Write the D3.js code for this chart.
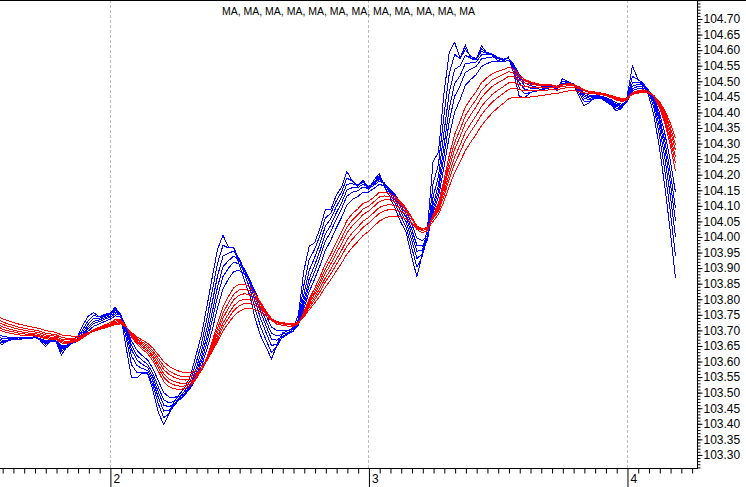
<!DOCTYPE html>
<html>
<head>
<meta charset="utf-8">
<script src="https://cdnjs.cloudflare.com/ajax/libs/d3/7.8.5/d3.min.js"></script>
<style>
  body { margin: 0; background: #fff; }
  svg { display: block; font-family: "Liberation Sans", Arial, sans-serif; }
</style>
</head>
<body>
<div id="chart"></div>
<script>
// 30-minute closes, hour 0 = start of day 2 (first 40 bars are warm-up, off-screen)
const closes = [
  103.85, 103.86, 103.84, 103.85, 103.87, 103.85, 103.84, 103.86, 103.85, 103.83,
  103.85, 103.86, 103.84, 103.85, 103.86, 103.84, 103.85, 103.87, 103.85, 103.84,
  103.86, 103.85, 103.84, 103.86, 103.85, 103.83, 103.82, 103.80, 103.79, 103.77,
  103.76, 103.75, 103.73, 103.72, 103.71, 103.70, 103.69, 103.68, 103.67, 103.66,
  // day 1, 14:00 onwards
  103.653, 103.669, 103.676, 103.669, 103.679, 103.672, 103.682, 103.666, 103.643, 103.669,
  103.663, 103.611, 103.653, 103.676, 103.682, 103.727, 103.753, 103.760, 103.740, 103.753,
  // day 2
  103.756, 103.779, 103.740, 103.621, 103.525, 103.547, 103.566, 103.563, 103.493, 103.419,
  103.387, 103.444, 103.483, 103.502, 103.525, 103.566, 103.637, 103.701, 103.798, 103.894,
  103.984, 104.016, 103.958, 103.965, 103.900, 103.846, 103.798, 103.717, 103.669, 103.637,
  103.599, 103.663, 103.701, 103.701, 103.711, 103.759, 103.926, 103.990, 103.984, 104.038,
  104.103, 104.087, 104.144, 104.167, 104.222, 104.173, 104.157, 104.189,
  // day 3
  104.144, 104.189, 104.209, 104.151, 104.119, 104.080, 104.038, 104.006, 103.920, 103.855,
  103.965, 104.055, 104.295, 104.279, 104.504, 104.626, 104.633, 104.562, 104.626, 104.562,
  104.568, 104.626, 104.584, 104.584, 104.562, 104.562, 104.581, 104.511, 104.433, 104.446,
  104.466, 104.472, 104.472, 104.482, 104.488, 104.466, 104.517, 104.498, 104.488, 104.446,
  104.414, 104.433, 104.453, 104.446, 104.433, 104.421, 104.401, 104.414,
  // day 4
  104.456, 104.575, 104.498, 104.485, 104.446, 104.376, 104.263, 104.135, 103.990, 103.830
];
const lastHour = 52.5;
const barHours = 0.5;

// fast (blue) and slow (red) moving-average periods, in bars
const shortPeriods = [1.5, 2.5, 3.5, 4.5, 5.5, 7];
const longPeriods = [10, 11.5, 13, 15, 17, 20];

const dayTicks = [0, 24, 48];
const dayLabels = ['2', '3', '4'];
const titleParts = ['MA', 'MA', 'MA', 'MA', 'MA', 'MA', 'MA', 'MA', 'MA', 'MA', 'MA', 'MA'];

// Chart dimensions
const totalWidth = 746;
const totalHeight = 487;
const plotRight = 697;
const plotBottom = 468;

const hours = closes.map((d, i) => lastHour - (closes.length - 1 - i) * barHours);

const ema = (values, period) => {
  const a = 2 / (period + 1);
  let prev = values[0];
  return values.map((v) => (prev = prev + a * (v - prev)));
};

const svg = d3
  .select('#chart')
  .append('svg')
  .attr('width', totalWidth)
  .attr('height', totalHeight);

// Scales
const x = d3.scaleLinear().domain([-10.2, 54.5]).range([0, plotRight]);
const y = d3.scaleLinear().domain([103.258, 104.761]).range([plotBottom, 0]);

svg
  .append('defs')
  .append('clipPath')
  .attr('id', 'plot-clip')
  .append('rect')
  .attr('width', plotRight)
  .attr('height', plotBottom);

// Day gridlines
svg
  .append('g')
  .selectAll('line')
  .data(dayTicks)
  .enter()
  .append('line')
  .attr('x1', (d) => Math.round(x(d)) + 0.5)
  .attr('x2', (d) => Math.round(x(d)) + 0.5)
  .attr('y1', 0)
  .attr('y2', plotBottom)
  .attr('stroke', '#bdbdbd')
  .attr('stroke-dasharray', '3,2');

// Moving averages
const line = d3
  .line()
  .x((d, i) => x(hours[i]))
  .y((d) => y(d));

const lines = svg.append('g').attr('clip-path', 'url(#plot-clip)');

const drawGroup = (periods, color) => {
  lines
    .append('g')
    .selectAll('path')
    .data(periods.map((p) => ema(closes, p)))
    .enter()
    .append('path')
    .attr('d', line)
    .attr('fill', 'none')
    .attr('stroke', color)
    .attr('stroke-width', 1)
    .attr('shape-rendering', 'crispEdges');
};
drawGroup(shortPeriods, '#0000ff');
drawGroup(longPeriods, '#ff0000');

// Frame
svg
  .append('line')
  .attr('x1', 0)
  .attr('x2', totalWidth)
  .attr('y1', 0.5)
  .attr('y2', 0.5)
  .attr('stroke', '#000');

// Right axis: minor ticks every 0.01, labels every 0.05
const minorPrices = d3.range(10326, 10477).map((v) => v / 100);
const majorPrices = d3.range(10330, 10475, 5).map((v) => v / 100);

const yMinor = svg
  .append('g')
  .attr('transform', `translate(${plotRight + 0.5}, 0)`)
  .call(d3.axisRight(y).tickValues(minorPrices).tickSize(3).tickSizeOuter(0).tickFormat(''));
yMinor.select('.domain').attr('d', `M0,0V${plotBottom}`);

svg
  .append('g')
  .attr('transform', `translate(${plotRight + 0.5}, 0)`)
  .call(d3.axisRight(y).tickValues(majorPrices).tickSize(5).tickPadding(1).tickFormat(d3.format('.2f')))
  .call((g) => g.select('.domain').remove())
  .call((g) => g.selectAll('text').attr('font-size', 12).attr('fill', '#000').attr('font-family', 'Liberation Sans, Arial, sans-serif'));

// Bottom axis: hourly ticks, day labels
const hourTicks = d3.range(-10, 55).filter((h) => h % 24 !== 0);

svg
  .append('g')
  .attr('transform', `translate(0, ${plotBottom + 0.5})`)
  .call(d3.axisBottom(x).tickValues(hourTicks).tickSize(5).tickSizeOuter(0).tickFormat(''))
  .call((g) => g.select('.domain').attr('d', `M0,0H${plotRight + 1}`))
  .call((g) => g.selectAll('.tick line').attr('transform', 'translate(0.5,0)'));

svg
  .append('g')
  .attr('transform', `translate(0, ${plotBottom + 0.5})`)
  .call(d3.axisBottom(x).tickValues(dayTicks).tickSize(19).tickFormat((d, i) => dayLabels[i]))
  .call((g) => g.select('.domain').remove())
  .call((g) => g.selectAll('.tick line').attr('transform', 'translate(0.5,0)'))
  .call((g) =>
    g
      .selectAll('text')
      .attr('x', 3)
      .attr('y', 6)
      .attr('dy', '0.71em')
      .attr('text-anchor', 'start')
      .attr('font-size', 12)
      .attr('fill', '#000')
      .attr('font-family', 'Liberation Sans, Arial, sans-serif')
  );

// Title
svg
  .append('text')
  .attr('x', plotRight / 2)
  .attr('y', 15)
  .attr('text-anchor', 'middle')
  .style('font-size', '10.5px')
  .text(titleParts.join(', '));
</script>
</body>
</html>
